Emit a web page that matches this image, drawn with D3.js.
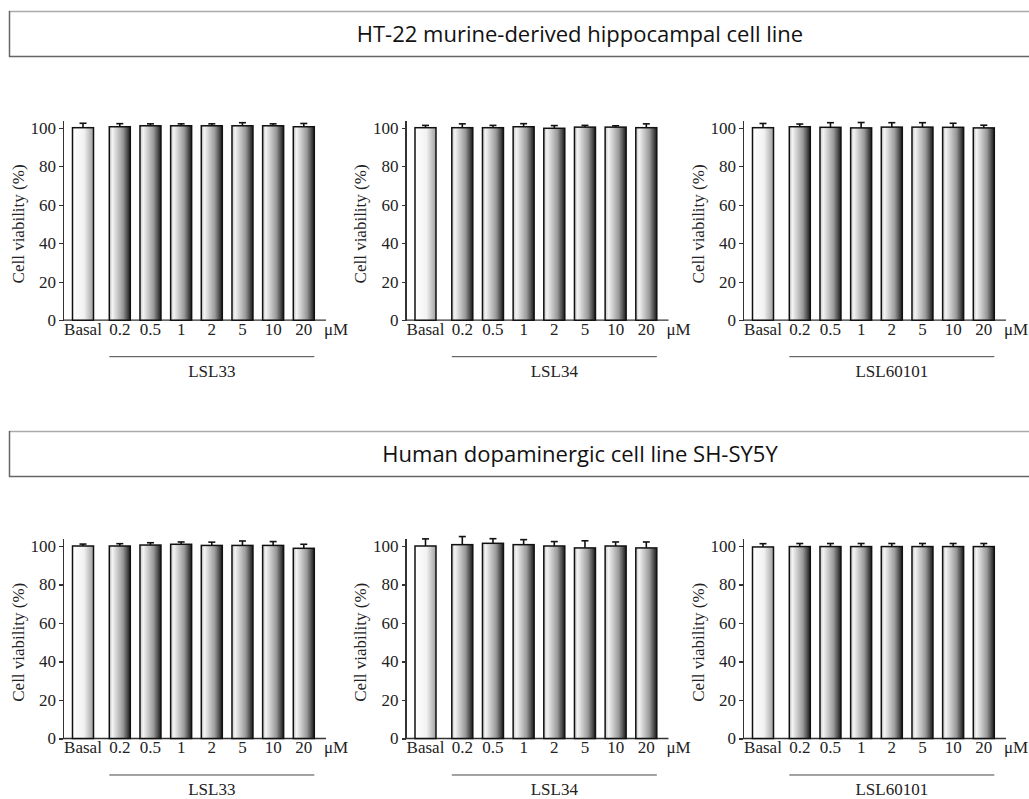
<!DOCTYPE html>
<meta charset="utf-8">
<style>
    body { margin: 0; background: #fff; }
    .axis path, .axis line { stroke: #333; stroke-width: 1.3px; shape-rendering: crispEdges; }
    .bar { stroke: #111; stroke-width: 1.5px; }
    .err { stroke: #111; stroke-width: 1.6px; }
</style>
<body>
<svg width="1029" height="799"></svg>
<script src="https://d3js.org/d3.v7.min.js"></script>
<script>
    // doses
    var doses = ["Basal", "0.2", "0.5", "1", "2", "5", "10", "20"];
    var compounds = ["LSL33", "LSL34", "LSL60101"];
    var cellLines = ["HT-22 murine-derived hippocampal cell line", "Human dopaminergic cell line SH-SY5Y"];
    var yTicks = [0, 20, 40, 60, 80, 100];

    // HT-22 means / sem
    var ht22_LSL33 = [100, 100.5, 101, 101, 101, 101, 101, 100.5];
    var ht22_LSL33_err = [2.3, 1.6, 1.0, 1.0, 1.0, 1.6, 1.0, 1.7];
    var ht22_LSL34 = [100, 100, 100, 100.5, 99.7, 100.3, 100.3, 100];
    var ht22_LSL34_err = [1.2, 2.0, 1.2, 1.6, 1.4, 0.9, 0.7, 2.0];
    var ht22_LSL60101 = [100, 100.5, 100.2, 99.9, 100.3, 100.3, 100.2, 99.9];
    var ht22_LSL60101_err = [2.2, 1.4, 2.4, 2.8, 2.3, 2.3, 2.1, 1.4];

    // SH-SY5Y means / sem
    var sh_LSL33 = [100, 100, 100.5, 100.9, 100.3, 100.3, 100.3, 98.8];
    var sh_LSL33_err = [1.0, 1.2, 1.2, 1.2, 1.7, 2.3, 2.0, 2.1];
    var sh_LSL34 = [100, 100.7, 101.4, 100.7, 100, 99, 100, 99];
    var sh_LSL34_err = [3.7, 4.2, 2.4, 2.6, 2.3, 3.7, 2.1, 3.1];
    var sh_LSL60101 = [99.5, 99.7, 99.7, 99.7, 99.7, 99.7, 99.7, 99.7];
    var sh_LSL60101_err = [1.7, 1.6, 1.6, 1.6, 1.6, 1.6, 1.6, 1.6];

    var rows = [
        [[ht22_LSL33, ht22_LSL33_err], [ht22_LSL34, ht22_LSL34_err], [ht22_LSL60101, ht22_LSL60101_err]],
        [[sh_LSL33, sh_LSL33_err], [sh_LSL34, sh_LSL34_err], [sh_LSL60101, sh_LSL60101_err]]
    ];

    var serif = "'Liberation Serif', 'Times New Roman', serif";

    var svg = d3.select("svg");

    var defs = svg.append("defs");
    var gBasal = defs.append("linearGradient").attr("id", "gradBasal");
    gBasal.append("stop").attr("offset", "0%").attr("stop-color", "#ffffff");
    gBasal.append("stop").attr("offset", "55%").attr("stop-color", "#f2f2f2");
    gBasal.append("stop").attr("offset", "100%").attr("stop-color", "#a0a0a0");
    var gDose = defs.append("linearGradient").attr("id", "gradDose");
    gDose.append("stop").attr("offset", "0%").attr("stop-color", "#c0c0c0");
    gDose.append("stop").attr("offset", "15%").attr("stop-color", "#f4f4f4");
    gDose.append("stop").attr("offset", "65%").attr("stop-color", "#999");
    gDose.append("stop").attr("offset", "100%").attr("stop-color", "#1a1a1a");

    var panelX = [63, 405.5, 743],
        rowTitleY = [11, 431],
        rowTop = [120, 538.3],
        plotH = 200.2,
        axisW = 263,
        barW = 21,
        basalGap = 36.8;

    var y = d3.scaleLinear().domain([0, 104]).range([plotH, 0]);
    var x = d3.scalePoint().domain(doses.slice(1)).range([56.8, 240.8]);
    function xc(d) { return d === "Basal" ? x(doses[1]) - basalGap : x(d); }

    function serifText(sel) {
        return sel.attr("font-family", serif).attr("font-size", 17).attr("fill", "#222");
    }

    rows.forEach(function(row, r) {
        // title box
        svg.append("line").attr("x1", 9).attr("x2", 1029).attr("y1", rowTitleY[r] + 0.5).attr("y2", rowTitleY[r] + 0.5)
            .attr("stroke", "#aaa").attr("stroke-width", 1.5);
        svg.append("line").attr("x1", 9).attr("x2", 1029).attr("y1", rowTitleY[r] + 45.5).attr("y2", rowTitleY[r] + 45.5)
            .attr("stroke", "#666").attr("stroke-width", 1.5);
        svg.append("line").attr("x1", 9.5).attr("x2", 9.5).attr("y1", rowTitleY[r]).attr("y2", rowTitleY[r] + 46)
            .attr("stroke", "#666").attr("stroke-width", 1.5);
        svg.append("text")
            .attr("font-family", "'Open Sans', sans-serif").attr("font-size", 22).attr("fill", "#111")
            .attr("x", 580).attr("y", rowTitleY[r] + 23).attr("dy", "0.36em")
            .attr("text-anchor", "middle")
            .text(cellLines[r]);

        row.forEach(function(series, c) {
            var vals = series[0], errs = series[1];
            var data = doses.map(function(d, i) { return {dose: d, v: vals[i], e: errs[i]}; });

            var g = svg.append("g")
                .attr("transform", "translate(" + panelX[c] + "," + rowTop[r] + ")");

            // x baseline
            g.append("line")
                .attr("x1", 0).attr("x2", axisW)
                .attr("y1", y(0)).attr("y2", y(0))
                .attr("stroke", "#333").attr("stroke-width", 1.3);

            // error bars (upper only)
            var eb = g.selectAll(".eb").data(data).enter().append("g").attr("class", "eb");
            eb.append("line").attr("class", "err")
                .attr("x1", function(d) { return xc(d.dose); })
                .attr("x2", function(d) { return xc(d.dose); })
                .attr("y1", function(d) { return y(d.v); })
                .attr("y2", function(d) { return y(d.v + d.e); });
            eb.append("line").attr("class", "err")
                .attr("x1", function(d) { return xc(d.dose) - 3.5; })
                .attr("x2", function(d) { return xc(d.dose) + 3.5; })
                .attr("y1", function(d) { return y(d.v + d.e); })
                .attr("y2", function(d) { return y(d.v + d.e); });

            g.selectAll(".bar").data(data).enter().append("rect")
                .attr("class", "bar")
                .attr("x", function(d) { return xc(d.dose) - barW / 2; })
                .attr("width", barW)
                .attr("y", function(d) { return y(d.v); })
                .attr("height", function(d) { return y(0) - y(d.v); })
                .attr("fill", function(d) { return d.dose === "Basal" ? "url(#gradBasal)" : "url(#gradDose)"; });

            // y axis
            var ya = g.append("g")
                .attr("class", "axis")
                .call(d3.axisLeft(y).tickValues(yTicks).tickSize(4).tickSizeOuter(0).tickPadding(3));
            ya.attr("font-family", serif).attr("font-size", 17);
            ya.selectAll("text").attr("fill", "#222");

            serifText(g.append("text"))
                .attr("transform", "translate(-45," + (y(0) + y(100)) / 2 + ") rotate(-90)")
                .attr("text-anchor", "middle")
                .attr("dy", "0.35em")
                .text("Cell viability (%)");

            // dose labels
            serifText(g.selectAll(".dl").data(doses).enter().append("text"))
                .attr("x", function(d) { return xc(d); })
                .attr("y", plotH + 15)
                .attr("text-anchor", "middle")
                .text(function(d) { return d; });
            serifText(g.append("text"))
                .attr("x", axisW + 10).attr("y", plotH + 15)
                .attr("text-anchor", "middle")
                .text("μM");

            // compound bracket
            var bx1 = x(doses[1]) - barW / 2, bx2 = x(doses[7]) + barW / 2;
            g.append("line")
                .attr("x1", bx1).attr("x2", bx2)
                .attr("y1", plotH + 36.5).attr("y2", plotH + 36.5)
                .attr("stroke", "#444").attr("stroke-width", 1);
            serifText(g.append("text"))
                .attr("x", (bx1 + bx2) / 2).attr("y", plotH + 57)
                .attr("text-anchor", "middle")
                .text(compounds[c]);
        });
    });
</script>
</body>
